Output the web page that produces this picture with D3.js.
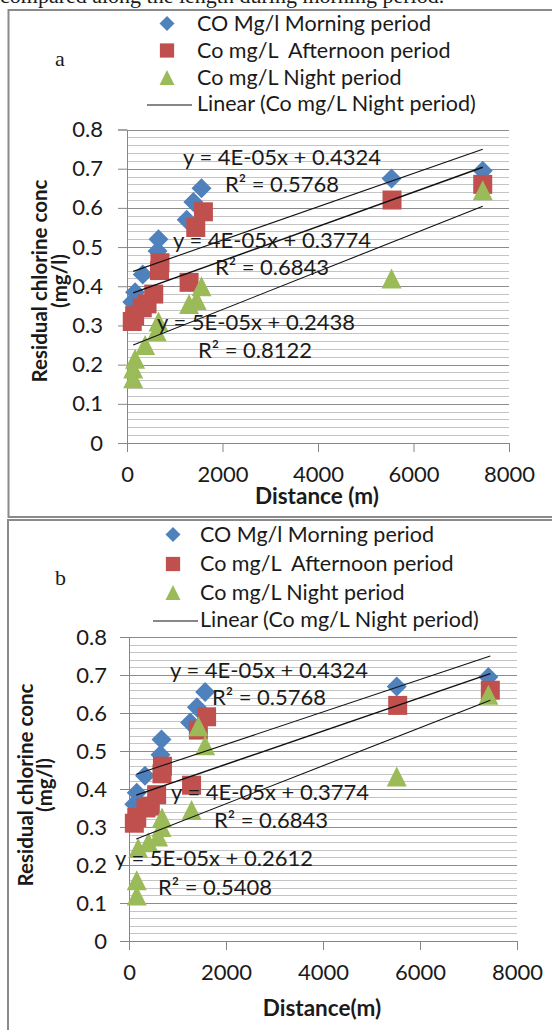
<!DOCTYPE html>
<html>
<head>
<meta charset="utf-8">
<script src="https://cdn.jsdelivr.net/npm/d3@7/dist/d3.min.js"></script>
<style>
  body { margin: 0; background: #fff; }
  svg { display: block; }
  text { font-family: Lato, "Open Sans", sans-serif; fill: #1a1a1a; }
</style>
</head>
<body>
<svg id="chart" width="552" height="1030"></svg>
<script>
// ---- data ----
const seriesNames = ['CO Mg/l Morning period', 'Co mg/L  Afternoon period', 'Co mg/L Night period'];
const trendLegend = 'Linear (Co mg/L Night period)';

const yTicks = [0, 0.1, 0.2, 0.3, 0.4, 0.5, 0.6, 0.7, 0.8];
const xTicks = [0, 2000, 4000, 6000, 8000];

// panel a
const morningXA = [110, 170, 330, 640, 660, 1250, 1390, 1560, 5540, 7450];
const morningYA = [0.36, 0.385, 0.43, 0.49, 0.52, 0.57, 0.615, 0.65, 0.675, 0.695];
const afternoonXA = [110, 160, 320, 420, 560, 680, 690, 1300, 1440, 1600, 5550, 7450];
const afternoonYA = [0.31, 0.325, 0.345, 0.355, 0.38, 0.44, 0.46, 0.41, 0.55, 0.59, 0.62, 0.66];
const nightXA = [130, 130, 170, 380, 620, 660, 1300, 1460, 1560, 5540, 7450];
const nightYA = [0.165, 0.19, 0.215, 0.25, 0.285, 0.31, 0.355, 0.365, 0.40, 0.42, 0.645];
const trendSlopeA = [4.26e-5, 4.38e-5, 4.84e-5];
const trendInterceptA = [0.4324, 0.3774, 0.2438];
const trendRangeA = [130, 7450];
const eqTextA = ['y = 4E-05x + 0.4324', 'y = 4E-05x + 0.3774', 'y = 5E-05x + 0.2438'];
const r2TextA = ['R² = 0.5768', 'R² = 0.6843', 'R² = 0.8122'];

// panel b
const morningXB = [110, 160, 330, 650, 670, 1260, 1400, 1570, 5520, 7410];
const morningYB = [0.36, 0.39, 0.435, 0.49, 0.53, 0.575, 0.615, 0.655, 0.67, 0.695];
const afternoonXB = [110, 160, 350, 440, 570, 680, 690, 1290, 1430, 1600, 5540, 7450];
const afternoonYB = [0.31, 0.325, 0.35, 0.355, 0.385, 0.44, 0.46, 0.41, 0.555, 0.59, 0.62, 0.66];
const nightXB = [160, 160, 190, 400, 600, 670, 680, 1290, 1430, 1570, 5520, 7410];
const nightYB = [0.12, 0.16, 0.245, 0.26, 0.275, 0.30, 0.325, 0.345, 0.565, 0.515, 0.433, 0.648];
const trendSlopeB = [4.26e-5, 4.38e-5, 5.0e-5];
const trendInterceptB = [0.4324, 0.3774, 0.2612];
const trendRangeB = [150, 7450];
const eqTextB = ['y = 4E-05x + 0.4324', 'y = 4E-05x + 0.3774', 'y = 5E-05x + 0.2612'];
const r2TextB = ['R² = 0.5768', 'R² = 0.6843', 'R² = 0.5408'];

const colors = ['#4f81bd', '#c0504d', '#9bbb59'];

// ---- layout ----
const svg = d3.select('#chart');

// clipped caption line of the page above the figure
svg.append('text')
    .attr('x', 0).attr('y', 3)
    .style('font-family', '"Liberation Serif", "Times New Roman", serif')
    .style('font-size', '22px')
    .text('compared along the length during morning period.');

function zip(xs, ys) {
    return xs.map((x, i) => ({ x: x, y: ys[i] }));
}

const markerPaths = [
    r => `M0,${-r}L${r},0L0,${r}L${-r},0Z`,
    r => `M${-r * 0.95},${-r * 0.95}H${r * 0.95}V${r * 0.95}H${-r * 0.95}Z`,
    r => `M0,${-r}L${r},${r}L${-r},${r}Z`
];

function drawPanel(p) {
    const g = svg.append('g');

    // panel frame
    g.append('rect')
        .attr('x', p.frame[0]).attr('y', p.frame[1])
        .attr('width', 600).attr('height', p.frame[2])
        .attr('fill', 'none').attr('stroke', '#8a8a8a').attr('stroke-width', 2);

    const x = d3.scaleLinear().domain([0, 8000]).range([p.x0, p.x1]);
    const y = d3.scaleLinear().domain([0, 0.8]).range([p.yBottom, p.yTop]);

    // minor + major gridlines
    g.append('g').selectAll('line')
        .data(d3.range(0.02, 0.8, 0.02).filter(v => Math.abs(v * 10 - Math.round(v * 10)) > 1e-6))
        .join('line')
        .attr('x1', p.x0).attr('x2', p.x1)
        .attr('y1', d => Math.round(y(d)) + 0.5).attr('y2', d => Math.round(y(d)) + 0.5)
        .attr('stroke', '#c4c4c4').attr('stroke-width', 1);

    g.append('g').selectAll('line')
        .data(yTicks.slice(1))
        .join('line')
        .attr('x1', p.x0).attr('x2', p.x1)
        .attr('y1', d => Math.round(y(d)) + 0.5).attr('y2', d => Math.round(y(d)) + 0.5)
        .attr('stroke', '#8c8c8c').attr('stroke-width', 1);

    // y axis
    const yAxis = g.append('g')
        .attr('transform', `translate(${p.x0},0)`)
        .call(d3.axisLeft(y).tickValues(yTicks).tickSize(9).tickPadding(p.yPad).tickFormat(d3.format('')));
    yAxis.select('.domain').attr('stroke', '#868686');
    yAxis.selectAll('.tick line').attr('stroke', '#868686');
    yAxis.selectAll('text').style('font-size', '22px').attr('fill', '#1a1a1a').attr('font-family', null);

    // x axis
    const xAxis = g.append('g')
        .attr('transform', `translate(0,${p.yBottom})`)
        .call(d3.axisBottom(x).tickValues(xTicks).tickSize(9).tickPadding(p.xPad).tickFormat(d3.format('')));
    xAxis.select('.domain').attr('stroke', '#868686');
    xAxis.selectAll('.tick line').attr('stroke', '#868686');
    xAxis.selectAll('text').style('font-size', '22px').attr('fill', '#1a1a1a').attr('font-family', null);

    // markers
    p.series.forEach((s, i) => {
        g.append('g').selectAll('path')
            .data(s)
            .join('path')
            .attr('d', markerPaths[i](10))
            .attr('transform', d => `translate(${x(d.x)},${y(d.y)})`)
            .attr('fill', colors[i]);
    });

    // trend lines
    p.slopes.forEach((m, i) => {
        const b = p.intercepts[i];
        g.append('line')
            .attr('x1', x(p.range[0])).attr('y1', y(b + m * p.range[0]))
            .attr('x2', x(p.range[1])).attr('y2', y(b + m * p.range[1]))
            .attr('stroke', '#111').attr('stroke-width', i === 1 ? 1.5 : 1.1);
    });

    // equation labels
    p.eq.forEach((t, i) => {
        g.append('text')
            .attr('x', p.eqPos[i][0]).attr('y', p.eqPos[i][1])
            .attr('text-anchor', 'middle')
            .style('font-size', '22px')
            .text(t);
        g.append('text')
            .attr('x', p.r2Pos[i][0]).attr('y', p.r2Pos[i][1])
            .attr('text-anchor', 'middle')
            .style('font-size', '22px')
            .text(p.r2[i]);
    });

    // axis titles
    g.append('text')
        .attr('x', p.xTitle[0]).attr('y', p.xTitle[1])
        .attr('text-anchor', 'middle')
        .style('font-size', '22.5px').style('font-weight', 'bold')
        .text(p.xTitleText);

    const yt = g.append('text')
        .attr('transform', `translate(${p.yTitle[0]},${p.yTitle[2]}) rotate(-90)`)
        .attr('text-anchor', 'middle')
        .style('font-size', '20.5px').style('font-weight', 'bold');
    yt.append('tspan').attr('x', 0).attr('y', 0).text('Residual chlorine conc');
    yt.append('tspan').attr('x', 0).attr('y', p.yTitle[1] - p.yTitle[0]).text('(mg/l)');

    // legend
    const lg = g.append('g');
    seriesNames.forEach((name, i) => {
        lg.append('path')
            .attr('d', markerPaths[i](7.5))
            .attr('transform', `translate(${p.legX},${p.legRows[i] - 7})`)
            .attr('fill', colors[i]);
        lg.append('text')
            .attr('x', p.legTextX).attr('y', p.legRows[i])
            .style('font-size', '21.5px').style('white-space', 'pre')
            .text(name);
    });
    lg.append('line')
        .attr('x1', p.legX - 20).attr('x2', p.legX + 25)
        .attr('y1', p.legRows[3] - 6).attr('y2', p.legRows[3] - 6)
        .attr('stroke', '#111').attr('stroke-width', 1.2);
    lg.append('text')
        .attr('x', p.legTextX).attr('y', p.legRows[3])
        .style('font-size', '21.5px')
        .text(trendLegend);

    // panel letter
    g.append('text')
        .attr('x', 55).attr('y', p.letterY)
        .style('font-family', '"Liberation Serif", "Times New Roman", serif')
        .style('font-size', '22px')
        .text(p.letter);
}

drawPanel({
    frame: [8.5, 10, 507],
    x0: 127, x1: 509, yTop: 129.5, yBottom: 443,
    yPad: 15, xPad: 14,
    series: [zip(morningXA, morningYA), zip(afternoonXA, afternoonYA), zip(nightXA, nightYA)],
    slopes: trendSlopeA, intercepts: trendInterceptA, range: trendRangeA,
    eq: eqTextA, r2: r2TextA,
    eqPos: [[282, 165], [272, 248], [256, 330]],
    r2Pos: [[282, 192], [272, 275], [255, 358]],
    xTitle: [317, 504], xTitleText: 'Distance (m)',
    yTitle: [47, 67, 281],
    legX: 167, legTextX: 197, legRows: [30.5, 57.5, 84.5, 111],
    letter: 'a', letterY: 66
});

drawPanel({
    frame: [8, 520, 600],
    x0: 129, x1: 517, yTop: 637, yBottom: 941,
    yPad: 13, xPad: 14,
    series: [zip(morningXB, morningYB), zip(afternoonXB, afternoonYB), zip(nightXB, nightYB)],
    slopes: trendSlopeB, intercepts: trendInterceptB, range: trendRangeB,
    eq: eqTextB, r2: r2TextB,
    eqPos: [[269, 678], [270, 800], [214, 866]],
    r2Pos: [[269, 705], [271, 828], [215, 895]],
    xTitle: [322, 1016], xTitleText: 'Distance(m)',
    yTitle: [33, 52, 785],
    legX: 173, legTextX: 200, legRows: [541.5, 571, 599.5, 627],
    letter: 'b', letterY: 585
});
</script>
</body>
</html>
